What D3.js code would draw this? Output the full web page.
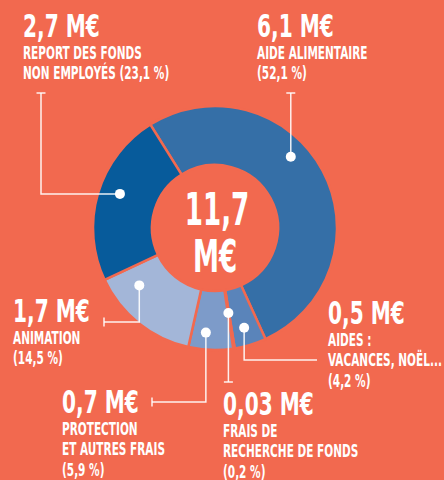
<!DOCTYPE html>
<html>
<head>
<meta charset="utf-8">
<script src="https://cdn.jsdelivr.net/npm/d3@7"></script>
<style>
  html, body { margin: 0; padding: 0; background: #F2694F; }
  svg { display: block; }
  text { font-family: "Liberation Sans Narrow", "DejaVu Sans Condensed", "Roboto", sans-serif; fill: #fff; font-weight: bold; }
</style>
</head>
<body>
<svg id="chart" width="444" height="480"></svg>
<script>
// ---- data ----
const categories = ["Aide alimentaire", "Aides : vacances, Noël...", "Frais de recherche de fonds", "Protection et autres frais", "Animation", "Report des fonds non employés"];
const amounts = [6.1, 0.5, 0.03, 0.7, 1.7, 2.7];          // M€
const shares = [52.1, 4.2, 0.2, 5.9, 14.5, 23.1];         // %
const labelLines = [["AIDE ALIMENTAIRE"], ["AIDES :", "VACANCES, NOËL..."], ["FRAIS DE", "RECHERCHE DE FONDS"], ["PROTECTION", "ET AUTRES FRAIS"], ["ANIMATION"], ["REPORT DES FONDS", "NON EMPLOYÉS"]];
const pctInline = [false, false, false, false, false, true];
const totalLabel = ["11,7", "M€"];

// ---- styles / layout ----
const colors = ["#356FA7", "#5A84BA", "#8CA6CF", "#7D9BC9", "#A3B6D8", "#075B9B"];
const bg = "#F2694F";
const cx = 215, cy = 228, rIn = 63, rOut = 122;
const startDeg = -32;
const labelPos = [[257, 37], [328, 324], [223, 415], [62, 413], [13, 322], [23, 37]];
const dotSpec = [[0.42, 104], [0.54, 104], [0.5, 86], [0.64, 105], [0.77, 95], [0.54, 101]];
const leaders = [
  {mode: "v", end: [null, 93], tick: true},
  {mode: "vh", end: [317, 360], tick: false},
  {mode: "v", end: [null, 382], tick: true},
  {mode: "vh", end: [152, 402], tick: true},
  {mode: "vh", end: [104, 322], tick: true},
  {mode: "hv", end: [41, 93], tick: true}
];
const numScale = 0.70, txtScale = 0.65, centerScale = 0.66;

const fmt = v => String(v).replace(".", ",");

const svg = d3.select("#chart");
svg.append("rect").attr("width", 444).attr("height", 480).attr("fill", bg);

const data = categories.map((c, i) => ({c, amount: amounts[i], share: shares[i], i}));
const pie = d3.pie().value(d => d.share).sort(null)
  .startAngle(startDeg * Math.PI / 180)
  .endAngle(startDeg * Math.PI / 180 + 2 * Math.PI);
const arcs = pie(data);
const arc = d3.arc().innerRadius(rIn).outerRadius(rOut);

const g = svg.append("g").attr("transform", `translate(${cx},${cy})`);
g.selectAll("path.slice").data(arcs).join("path")
  .attr("class", "slice")
  .attr("d", arc)
  .attr("fill", d => colors[d.data.i])
  .attr("stroke", bg).attr("stroke-width", 2.5).attr("stroke-linejoin", "miter");

// center text
svg.append("text").attr("text-anchor", "middle")
  .attr("transform", `translate(${cx + 2},${225}) scale(${centerScale},1)`)
  .attr("font-size", 44).text(totalLabel[0]);
svg.append("text").attr("text-anchor", "middle")
  .attr("transform", `translate(${cx},${272}) scale(${centerScale},1)`)
  .attr("font-size", 44).text(totalLabel[1]);

// leaders and dots
arcs.forEach(a => {
  const i = a.data.i;
  const [frac, r] = dotSpec[i];
  const ang = a.startAngle + (a.endAngle - a.startAngle) * frac;
  const dx = cx + r * Math.sin(ang), dy = cy - r * Math.cos(ang);
  const L = leaders[i];
  const ex = L.end[0] == null ? dx : L.end[0], ey = L.end[1];
  let pts;
  if (L.mode === "v") pts = [[dx, dy], [dx, ey]];
  else if (L.mode === "vh") pts = [[dx, dy], [dx, ey], [ex, ey]];
  else pts = [[dx, dy], [ex, dy], [ex, ey]];
  svg.append("path").attr("d", d3.line()(pts))
    .attr("fill", "none").attr("stroke", "#fff").attr("stroke-opacity", 0.9).attr("stroke-width", 1.5);
  if (L.tick) {
    const last = pts[pts.length - 1], prev = pts[pts.length - 2];
    const vertical = Math.abs(last[0] - prev[0]) < 0.5;
    const t = 4.5;
    const tp = vertical ? [[last[0] - t, last[1]], [last[0] + t, last[1]]] : [[last[0], last[1] - t], [last[0], last[1] + t]];
    svg.append("path").attr("d", d3.line()(tp))
      .attr("fill", "none").attr("stroke", "#fff").attr("stroke-opacity", 0.9).attr("stroke-width", 1.5);
  }
  svg.append("circle").attr("cx", dx).attr("cy", dy).attr("r", 5).attr("fill", "#fff");
});

// labels
data.forEach(d => {
  const [x, y] = labelPos[d.i];
  svg.append("text").attr("transform", `translate(${x},${y}) scale(${numScale},1)`)
    .attr("font-size", 32).text(fmt(d.amount) + " M€");
  const lines = labelLines[d.i].slice();
  const pct = "(" + fmt(d.share) + " %)";
  if (pctInline[d.i]) lines[lines.length - 1] += " " + pct; else lines.push(pct);
  lines.forEach((ln, k) => {
    svg.append("text").attr("transform", `translate(${x},${y + 21.5 + k * 20.5}) scale(${txtScale},1)`)
      .attr("font-size", 18).text(ln);
  });
});
</script>
</body>
</html>
